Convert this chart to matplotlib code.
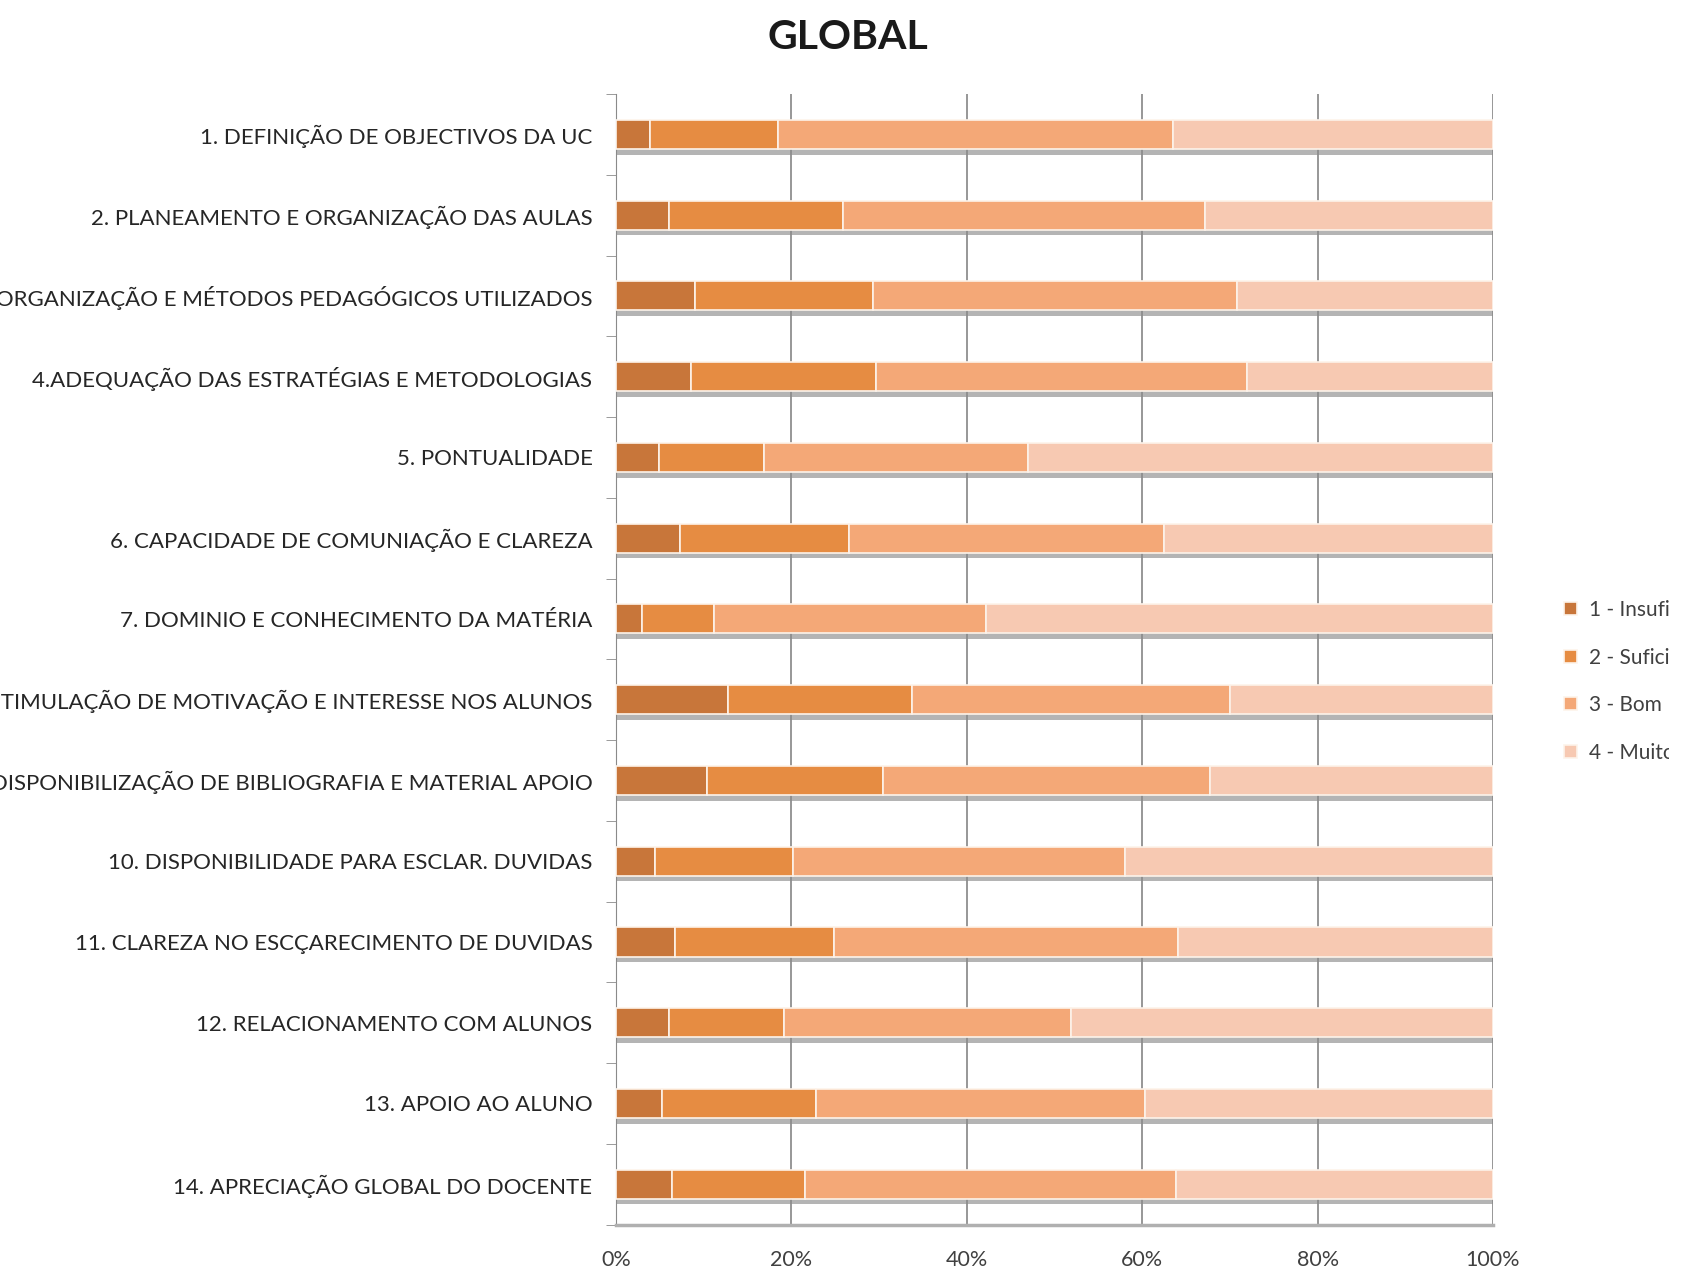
import numpy as np
from matplotlib import pyplot as plt
from matplotlib.transforms import Bbox

plt.rcParams['font.family'] = ['Lato', 'DejaVu Sans']

# Questionnaire items
items = [
    '1. DEFINIÇÃO DE OBJECTIVOS DA UC',
    '2. PLANEAMENTO E ORGANIZAÇÃO DAS AULAS',
    '3. ORGANIZAÇÃO E MÉTODOS PEDAGÓGICOS UTILIZADOS',
    '4.ADEQUAÇÃO DAS ESTRATÉGIAS E METODOLOGIAS',
    '5. PONTUALIDADE',
    '6. CAPACIDADE DE COMUNIAÇÃO E CLAREZA',
    '7. DOMINIO E CONHECIMENTO DA MATÉRIA',
    '8. ESTIMULAÇÃO DE MOTIVAÇÃO E INTERESSE NOS ALUNOS',
    '9. DISPONIBILIZAÇÃO DE BIBLIOGRAFIA E MATERIAL APOIO',
    '10. DISPONIBILIDADE PARA ESCLAR. DUVIDAS',
    '11. CLAREZA NO ESCÇARECIMENTO DE DUVIDAS',
    '12. RELACIONAMENTO COM ALUNOS',
    '13. APOIO AO ALUNO',
    '14. APRECIAÇÃO GLOBAL DO DOCENTE',
]

# share of answers per grade (%)
insuficiente = [3.9, 6.0, 9.0, 8.6, 4.9, 7.3, 3.0, 12.8, 10.4, 4.4, 6.7, 6.0, 5.2, 6.4]
suficiente = [14.6, 19.9, 20.3, 21.1, 12.0, 19.3, 8.2, 21.0, 20.0, 15.8, 18.2, 13.2, 17.6, 15.1]
bom = [45.0, 41.3, 41.5, 42.3, 30.1, 35.9, 31.0, 36.2, 37.3, 37.8, 39.2, 32.7, 37.5, 42.3]
muito_bom = [36.5, 32.8, 29.2, 28.0, 53.0, 37.5, 57.8, 30.0, 32.3, 42.0, 35.9, 48.1, 39.7, 36.2]

grades = ['1 - Insuficiente', '2 - Suficiente', '3 - Bom', '4 - Muito Bom']
colors = ['#c8763a', '#e68c42', '#f4a877', '#f7c9b2']

series = [insuficiente, suficiente, bom, muito_bom]
y = np.arange(len(items))
height = 0.36

fig = plt.figure(figsize=(16.96, 12.71), dpi=100)
ax = fig.add_axes([0.3632, 0.0365, 0.5171, 0.8895])

# bar shadow
ax.barh(y + height / 2 + 0.035, np.sum(series, axis=0), height=0.07,
        color='#8c8c8c', alpha=0.65, zorder=2)

left = np.zeros(len(items))
for vals, label, c in zip(series, grades, colors):
    ax.barh(y, vals, left=left, height=height, color=c, label=label,
            edgecolor='#fdf3ea', linewidth=1.2, zorder=3)
    left += vals

ax.set_xlim(0, 100)
ax.set_ylim(len(items) - 0.5, -0.5)
ax.set_xticks(np.arange(0, 101, 20))
ax.set_xticklabels(['{}%'.format(v) for v in range(0, 101, 20)],
                   fontsize=15.5, color='#404040')
ax.xaxis.grid(True, color='#7a7a7a', linewidth=1.1, zorder=0)
ax.set_axisbelow(True)

ax.set_yticks(y)
ax.set_yticklabels(items, fontsize=16, color='#262626')
ax.set_yticks(np.arange(len(items) + 1) - 0.5, minor=True)
ax.tick_params(axis='y', which='major', length=0, pad=17)
ax.tick_params(axis='y', which='minor', length=7, color='#8a8a8a')
ax.tick_params(axis='x', length=0, pad=18)

for side in ['top', 'right']:
    ax.spines[side].set_visible(False)
ax.spines['left'].set_color('#8a8a8a')
ax.spines['bottom'].set_color('#b0b0b0')
ax.spines['bottom'].set_linewidth(2.5)

fig.suptitle('GLOBAL', x=0.5, y=0.985, fontsize=29.5, fontweight='bold',
             color='#1a1a1a')

leg = ax.legend(loc='center left', bbox_to_anchor=(1.060, 0.4805), frameon=False,
                fontsize=15, handlelength=0.6, handleheight=0.6,
                labelspacing=1.32, handletextpad=0.6, labelcolor='#404040')

# legend area is narrower than the labels, so they get clipped
clip = Bbox.from_extents(0, 0, 1669, 1271)
for t in leg.get_texts():
    t.set_clip_box(clip)
    t.set_clip_on(True)

fig.savefig('out.png', dpi=100)
